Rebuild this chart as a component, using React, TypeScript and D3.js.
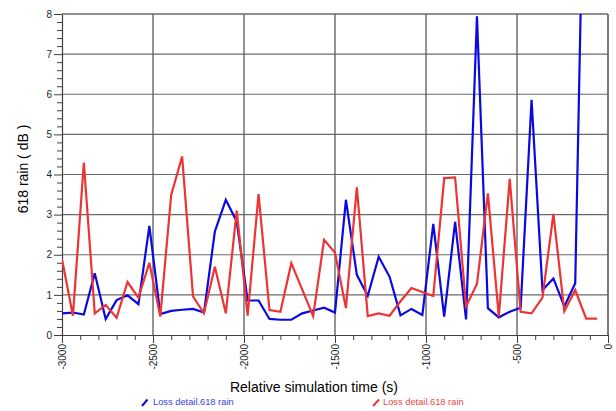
import React, { useEffect, useRef } from "react";
import * as d3 from "d3";

// red series: time (s) and loss (dB)
const redTimes = [
  -3000, -2940, -2880, -2820, -2760, -2700, -2640, -2580, -2520, -2460, -2400,
  -2340, -2280, -2220, -2160, -2100, -2040, -1980, -1920, -1860, -1800, -1740,
  -1680, -1620, -1560, -1500, -1440, -1380, -1320, -1260, -1200, -1140, -1080,
  -1020, -960, -900, -840, -780, -720, -660, -600, -540, -480, -420, -360,
  -300, -240, -180, -120, -60,
];
const redValues = [
  1.89, 0.48, 4.3, 0.54, 0.75, 0.43, 1.32, 0.93, 1.8, 0.46, 3.49, 4.45, 0.96,
  0.54, 1.7, 0.54, 3.1, 0.48, 3.51, 0.62, 0.58, 1.79, 1.13, 0.47, 2.37, 2.05,
  0.67, 3.68, 0.47, 0.54, 0.48, 0.84, 1.17, 1.07, 0.97, 3.91, 3.93, 0.71, 1.27,
  3.53, 0.46, 3.89, 0.58, 0.54, 0.93, 3.02, 0.59, 1.12, 0.41, 0.41,
];

// blue series (last point runs off the top)
const blueTimes = [
  -3000, -2940, -2880, -2820, -2760, -2700, -2640, -2580, -2520, -2460, -2400,
  -2340, -2280, -2220, -2160, -2100, -2040, -1980, -1920, -1860, -1800, -1740,
  -1680, -1620, -1560, -1500, -1440, -1380, -1320, -1260, -1200, -1140, -1080,
  -1020, -960, -900, -840, -780, -720, -660, -600, -540, -480, -420, -360,
  -300, -240, -180, -120,
];
const blueValues = [
  0.54, 0.56, 0.51, 1.54, 0.4, 0.87, 0.99, 0.77, 2.72, 0.52, 0.6, 0.63, 0.65,
  0.56, 2.58, 3.37, 2.83, 0.86, 0.86, 0.4, 0.38, 0.38, 0.54, 0.61, 0.68, 0.56,
  3.37, 1.5, 0.98, 1.95, 1.45, 0.49, 0.65, 0.5, 2.77, 0.46, 2.82, 0.39, 7.94,
  0.67, 0.44, 0.58, 0.68, 5.86, 1.12, 1.41, 0.71, 1.29, 15,
];

const xTicks = [-3000, -2500, -2000, -1500, -1000, -500, 0];
const xMinorTicks = [
  -2900, -2800, -2700, -2600, -2400, -2300, -2200, -2100, -1900, -1800, -1700,
  -1600, -1400, -1300, -1200, -1100, -900, -800, -700, -600, -400, -300, -200,
  -100,
];
const yTicks = [0, 1, 2, 3, 4, 5, 6, 7, 8];
const yMinorStep = 0.2;

const seriesNames = ["Loss detail.618 rain", "Loss detail.618 rain"];
const seriesColors = ["#0a0ae0", "#ec3434"];
const legendColors = ["#3c3ce6", "#e84848"];

const xTitle = "Relative simulation time (s)";
const yTitle = "618 rain ( dB )";

const FONT = "Arial, 'Liberation Sans', sans-serif";

function App() {
  const plotRef = useRef<SVGGElement>(null);
  const width = 616;
  const height = 411;
  const margin = { top: 14, right: 8, bottom: 76, left: 62 };

  useEffect(() => {
    const g = d3.select(plotRef.current);
    g.selectAll("*").remove();

    const innerW = width - margin.left - margin.right;
    const innerH = height - margin.top - margin.bottom;

    const x = d3.scaleLinear().domain([-3000, 0]).range([0, innerW]);
    const y = d3.scaleLinear().domain([0, 8]).range([innerH, 0]);

    // grid: horizontal gray, vertical a bit darker
    g.append("g")
      .selectAll("line")
      .data(yTicks.slice(1))
      .join("line")
      .attr("x1", 0)
      .attr("x2", innerW)
      .attr("y1", (d) => y(d))
      .attr("y2", (d) => y(d))
      .attr("stroke", "#6a6a6a")
      .attr("stroke-width", 1.2);
    g.append("g")
      .selectAll("line")
      .data(xTicks.slice(1))
      .join("line")
      .attr("x1", (d) => x(d))
      .attr("x2", (d) => x(d))
      .attr("y1", 0)
      .attr("y2", innerH)
      .attr("stroke", "#5a5a5a")
      .attr("stroke-width", 1.3);

    // minor ticks
    const yMinor = d3
      .range(0, 8 + 1e-9, yMinorStep)
      .filter((v) => Math.abs(v - Math.round(v)) > 1e-6);
    g.append("g")
      .call(d3.axisLeft(y).tickValues(yMinor).tickSize(5).tickFormat(() => ""))
      .call((a) => a.select(".domain").remove())
      .selectAll("line")
      .attr("stroke", "#404040");
    g.append("g")
      .attr("transform", `translate(0,${innerH})`)
      .call(
        d3.axisBottom(x).tickValues(xMinorTicks).tickSize(5).tickFormat(() => "")
      )
      .call((a) => a.select(".domain").remove())
      .selectAll("line")
      .attr("stroke", "#404040");

    // major axes
    const yAxis = g
      .append("g")
      .call(
        d3
          .axisLeft(y)
          .tickValues(yTicks)
          .tickSize(8)
          .tickPadding(2)
          .tickSizeOuter(0)
          .tickFormat((d) => String(d))
      );
    yAxis.selectAll("line").attr("stroke", "#404040");
    yAxis.select(".domain").attr("stroke", "#404040").attr("stroke-width", 1.2);
    yAxis
      .selectAll("text")
      .attr("font-family", FONT)
      .attr("font-size", 10)
      .attr("fill", "#222");

    const xAxis = g
      .append("g")
      .attr("transform", `translate(0,${innerH})`)
      .call(
        d3
          .axisBottom(x)
          .tickValues(xTicks)
          .tickSize(8)
          .tickSizeOuter(0)
          .tickFormat((d) => String(d))
      );
    xAxis.selectAll("line").attr("stroke", "#404040");
    xAxis.select(".domain").attr("stroke", "#404040").attr("stroke-width", 1.2);
    xAxis
      .selectAll("text")
      .attr("font-family", FONT)
      .attr("font-size", 10)
      .attr("fill", "#222")
      .attr("transform", "rotate(-90)")
      .attr("x", -9)
      .attr("y", 0)
      .attr("dy", "0.35em")
      .attr("text-anchor", "end");

    // top / right border
    g.append("line")
      .attr("x1", 0)
      .attr("x2", innerW)
      .attr("y1", 0)
      .attr("y2", 0)
      .attr("stroke", "#6a6a6a")
      .attr("stroke-width", 1.2);
    g.append("line")
      .attr("x1", innerW)
      .attr("x2", innerW)
      .attr("y1", 0)
      .attr("y2", innerH)
      .attr("stroke", "#6a6a6a")
      .attr("stroke-width", 1.2);

    // clip so the blue spike is cut at the top
    g.append("defs")
      .append("clipPath")
      .attr("id", "plot-clip")
      .append("rect")
      .attr("width", innerW)
      .attr("height", innerH);

    const line = d3
      .line<[number, number]>()
      .x((d) => x(d[0]))
      .y((d) => y(d[1]));

    const series = [
      d3.zip(blueTimes, blueValues) as [number, number][],
      d3.zip(redTimes, redValues) as [number, number][],
    ];

    g.append("g")
      .attr("clip-path", "url(#plot-clip)")
      .selectAll("path")
      .data(series)
      .join("path")
      .attr("d", (d) => line(d))
      .attr("fill", "none")
      .attr("stroke", (_, i) => seriesColors[i])
      .attr("stroke-width", 2.2)
      .attr("stroke-linejoin", "miter");
  }, []);

  return (
    <svg
      width={width}
      height={height}
      style={{ position: "absolute", left: 0, top: 0, background: "#fff" }}
    >
      <g ref={plotRef} transform={`translate(${margin.left},${margin.top})`} />
      <text
        x={314}
        y={392}
        textAnchor="middle"
        fontFamily={FONT}
        fontSize={14}
        fill="#000"
      >
        {xTitle}
      </text>
      <text
        transform="translate(28,169) rotate(-90)"
        textAnchor="middle"
        fontFamily={FONT}
        fontSize={14}
        fill="#000"
      >
        {yTitle}
      </text>
      {/* legend */}
      <line x1={142} y1={406} x2={147.5} y2={399.5} stroke={seriesColors[0]} strokeWidth={2} />
      <text x={153} y={405} fontFamily={FONT} fontSize={9.3} fill={legendColors[0]}>
        {seriesNames[0]}
      </text>
      <line x1={373} y1={406} x2={379} y2={399.5} stroke={seriesColors[1]} strokeWidth={2} />
      <text x={383} y={405} fontFamily={FONT} fontSize={9.3} fill={legendColors[1]}>
        {seriesNames[1]}
      </text>
    </svg>
  );
}

export default App;
